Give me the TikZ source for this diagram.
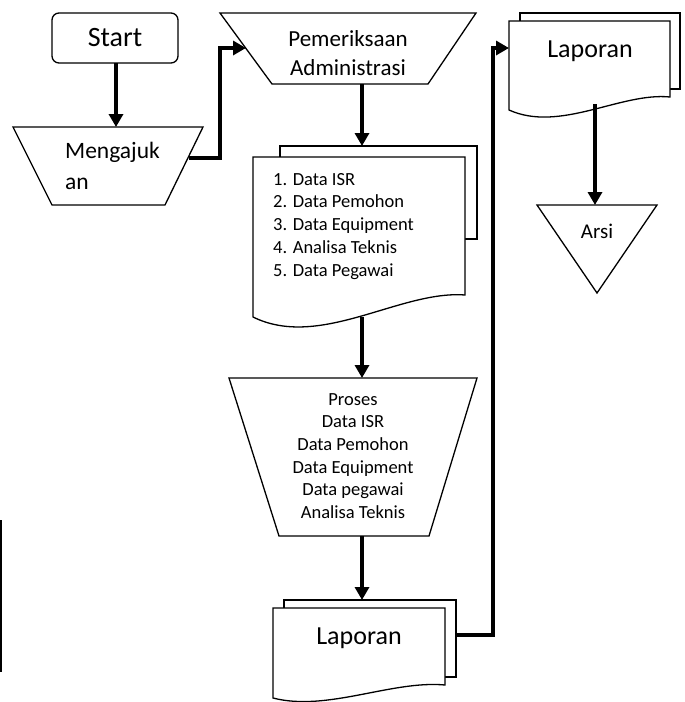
\documentclass[tikz,border=0pt]{standalone}
\usepackage{fontspec}
\setmainfont{Carlito}
\usetikzlibrary{arrows.meta}
\tikzset{
  shp/.style={draw=black, line width=1.3pt, fill=white, line join=miter},
  conn/.style={draw=black, line width=4pt, -{Triangle[width=14pt,length=13pt]}},
  lbl/.style={inner sep=0pt, text=black},
}
\begin{document}
\begin{tikzpicture}[x=1pt,y=-1pt]
\useasboundingbox (0,0) rectangle (685,702);
% ---- Start
\draw[shp, rounded corners=7pt] (52,13) rectangle (178,63);
\node[lbl, font=\fontsize{28}{30}\selectfont] (start) at (115,38) {Start};
\coordinate (startS) at (116,63);
% ---- Mengajukan (manual operation)
\draw[shp] (13,127) -- (203,127) -- (165,205) -- (52,205) -- cycle;
\node[lbl, anchor=north west, align=left, font=\fontsize{23.5}{31}\selectfont] (aju) at (65,142) {Mengajuk\\an};
\coordinate (ajuN) at (116,127);
\coordinate (ajuE) at (189,158);
% ---- Pemeriksaan Administrasi
\draw[shp] (220,13) -- (476,13) -- (428,84) -- (272,84) -- cycle;
\node[lbl, align=center, font=\fontsize{23}{29}\selectfont] (periksa) at (348,53) {Pemeriksaan\\Administrasi};
\coordinate (periksaW) at (246,48);
\coordinate (periksaS) at (362,84);
% ---- Data document (multi)
\draw[shp, fill=none] (280,157) -- (280,146) -- (477,146) -- (477,239) -- (465,239);
\draw[shp] (253,157) -- (465,157) -- (465,295) .. controls (400,290) and (320,350) .. (253,317) -- cycle;
\node[lbl, anchor=north west, align=left, font=\fontsize{18.5}{22.7}\selectfont] (data) at (273,173)
  {1. Data ISR\\2. Data Pemohon\\3. Data Equipment\\4. Analisa Teknis\\5. Data Pegawai};
\coordinate (dataN) at (362,146);
\coordinate (dataS) at (362,317);
% ---- Proses
\draw[shp] (229,378) -- (477,378) -- (429,536) -- (279,536) -- cycle;
\node[lbl, anchor=north, align=center, font=\fontsize{18.5}{22.7}\selectfont] (proses) at (353,393)
  {Proses\\Data ISR\\Data Pemohon\\Data Equipment\\Data pegawai\\Analisa Teknis};
\coordinate (prosesN) at (362,378);
\coordinate (prosesS) at (362,536);
% ---- Laporan (bottom)
\draw[shp, fill=none] (284,608) -- (284,600) -- (456,600) -- (456,677) -- (445,677);
\draw[shp] (273,608) -- (445,608) -- (445,685) .. controls (392,680) and (327,712) .. (273,698) -- cycle;
\node[lbl, font=\fontsize{26}{28}\selectfont] (lap1) at (359,638) {Laporan};
\coordinate (lap1N) at (362,600);
\coordinate (lap1E) at (456,635);
\coordinate (bendA) at (493,635);
\coordinate (bendB) at (493,48);
% ---- Laporan (top right)
\draw[shp, fill=none] (520,21) -- (520,13) -- (680,13) -- (680,89) -- (670,89);
\draw[shp] (509,21) -- (670,21) -- (670,97) .. controls (621,92) and (560,133) .. (509,110) -- cycle;
\node[lbl, font=\fontsize{26}{28}\selectfont] (lap2) at (590,51) {Laporan};
\coordinate (lap2W) at (509,48);
\coordinate (lap2S) at (595,104);
% ---- Arsi
\draw[shp] (537,205) -- (657,205) -- (597,293) -- cycle;
\node[lbl, font=\fontsize{21}{23}\selectfont] (arsi) at (597,231) {Arsi};
\coordinate (arsiN) at (595,205);
% ---- stray line
\coordinate (strayT) at (1,520);
\coordinate (strayB) at (1,672);
\draw[line width=2pt] (strayT) -- (strayB);
% ---- connectors
\draw[conn] (startS) -- (ajuN);
\draw[conn] (ajuE) -- (220,158) -- (220,48) -- (periksaW);
\draw[conn] (periksaS) -- (dataN);
\draw[conn] (dataS) -- (prosesN);
\draw[conn] (prosesS) -- (lap1N);
\draw[conn] (lap1E) -- (bendA) -- (bendB) -- (lap2W);
\draw[conn] (lap2S) -- (arsiN);
\end{tikzpicture}
\end{document}
